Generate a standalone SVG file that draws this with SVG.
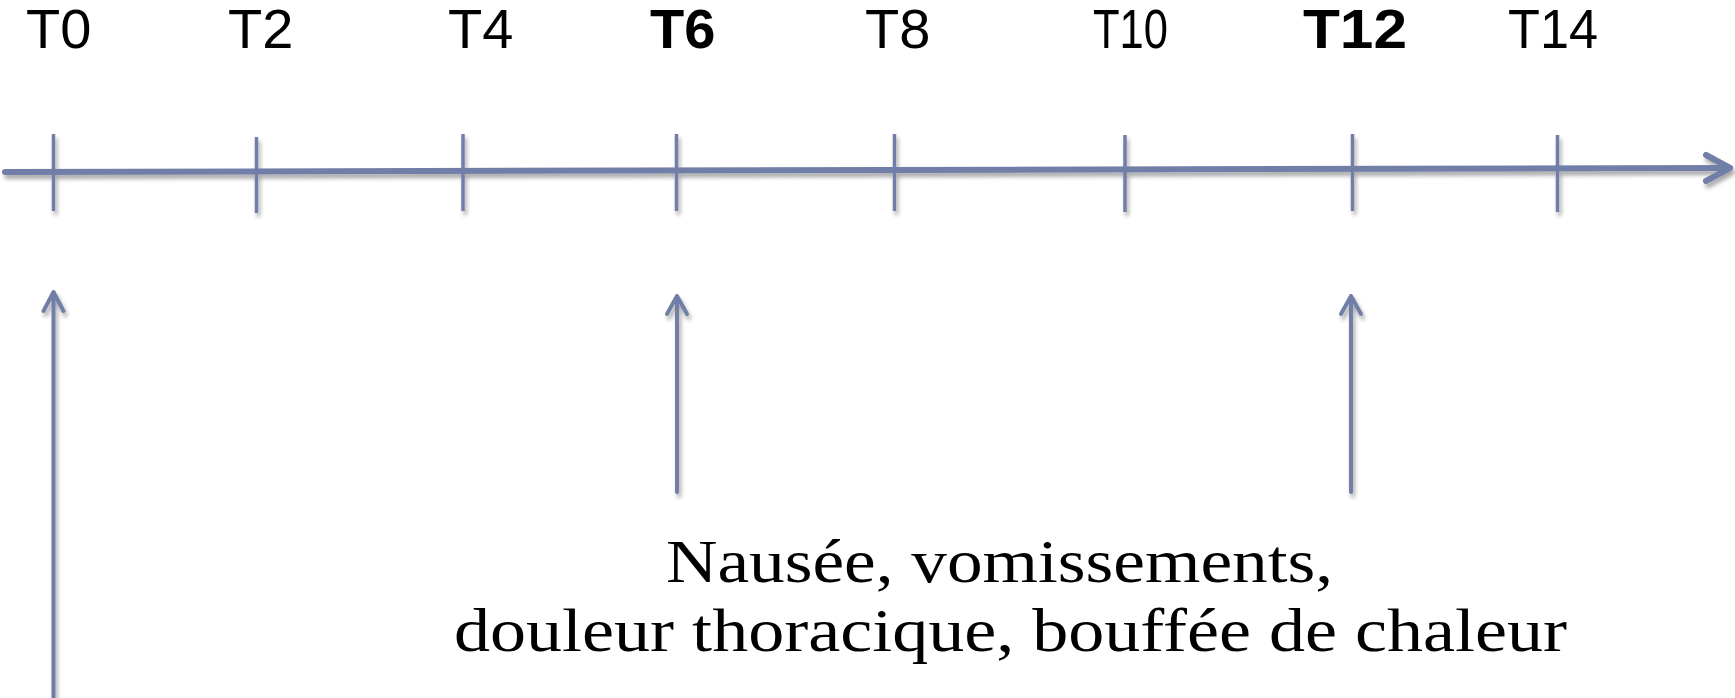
<svg xmlns="http://www.w3.org/2000/svg" width="1735" height="698" viewBox="0 0 1735 698">
  <style>
    .axis { stroke: #717ea7; stroke-width: 6; fill: none; stroke-linecap: round; stroke-linejoin: round; }
    .tick { stroke: #717ea7; stroke-width: 3.5; fill: none; }
    .up { stroke: #717ea7; stroke-width: 4; fill: none; stroke-linecap: round; stroke-linejoin: round; }
    .lbl { font-family: "Liberation Sans", Arial, sans-serif; font-size: 56px; fill: #000; }
    .lbl.b { font-weight: bold; }
    .note { font-family: "Liberation Serif", "Times New Roman", serif; font-size: 62px; fill: #000; }
  </style>
  <defs>
    <filter id="shadow" x="-20%" y="-20%" width="140%" height="140%">
      <feGaussianBlur in="SourceAlpha" stdDeviation="2"/>
      <feOffset dx="2" dy="4" result="b"/>
      <feComponentTransfer><feFuncA type="linear" slope="0.35"/></feComponentTransfer>
      <feMerge><feMergeNode/><feMergeNode in="SourceGraphic"/></feMerge>
    </filter>
  </defs>
  <rect width="1735" height="698" fill="#fff"/>

  <!-- time axis with ticks -->
  <g id="connectors" filter="url(#shadow)">
    <path class="axis" d="M5,172 L1729,168"/>
    <path class="axis" d="M1706,155 L1730,168 L1706,181"/>
    <path class="tick" d="M53.5,134 V211"/>
    <path class="tick" d="M256.5,137 V213"/>
    <path class="tick" d="M463,134 V211"/>
    <path class="tick" d="M676.5,134 V211"/>
    <path class="tick" d="M894.5,134 V211"/>
    <path class="tick" d="M1125,135 V212"/>
    <path class="tick" d="M1352.5,134 V211"/>
    <path class="tick" d="M1557.5,135 V212"/>

    <!-- event pointers -->
    <path class="up" d="M53.5,698 V292 M43.5,311 L53.5,292 L63.5,311"/>
    <path class="up" d="M677,492 V296 M667,314 L677,296 L687,314"/>
    <path class="up" d="M1351,492 V296 M1341,314 L1351,296 L1361,314"/>
  </g>

  <!-- tick labels -->
  <g id="t0"><text class="lbl" x="26" y="48">T0</text></g>
  <g id="t2"><text class="lbl" x="228" y="48">T2</text></g>
  <g id="t4"><text class="lbl" x="448" y="48">T4</text></g>
  <g id="t6"><text class="lbl b" x="650" y="48">T6</text></g>
  <g id="t8"><text class="lbl" x="865" y="48">T8</text></g>
  <g id="t10"><text class="lbl" x="1093" y="48" textLength="75" lengthAdjust="spacingAndGlyphs">T10</text></g>
  <g id="t12"><text class="lbl b" x="1303" y="48" textLength="104" lengthAdjust="spacingAndGlyphs">T12</text></g>
  <g id="t14"><text class="lbl" x="1508" y="48" textLength="90" lengthAdjust="spacingAndGlyphs">T14</text></g>

  <!-- symptoms -->
  <g id="symptoms">
    <text class="note" x="666" y="582" textLength="667" lengthAdjust="spacingAndGlyphs">Nausée, vomissements,</text>
    <text class="note" x="454" y="651" textLength="1113" lengthAdjust="spacingAndGlyphs">douleur thoracique, bouffée de chaleur</text>
  </g>
</svg>
